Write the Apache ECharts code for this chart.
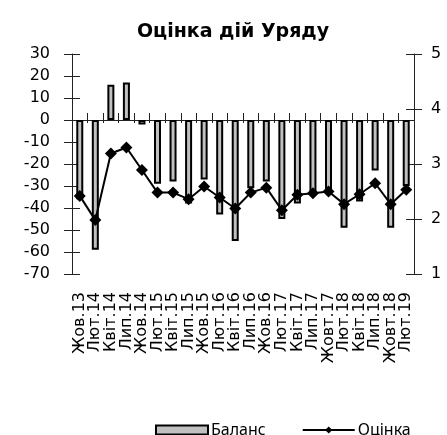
<!DOCTYPE html>
<html>
<head>
<meta charset="utf-8">
<script src="https://cdn.jsdelivr.net/npm/echarts@6/dist/echarts.min.js"></script>
<style>html,body{margin:0;padding:0;background:#fff;}#c{width:447px;height:435px;}</style>
</head>
<body>
<div id="c"></div>
<script>
const categories = ['Жов.13','Лют.14','Квіт.14','Лип.14','Жов.14','Лют.15','Квіт.15','Лип.15','Жов.15','Лют.16','Квіт.16','Лип.16','Жов.16','Лют.17','Квіт.17','Лип.17','Жовт.17','Лют.18','Квіт.18','Лип.18','Жовт.18','Лют.19'];
const balance = [-36, -59, 16, 17, -2, -29, -28, -38, -27, -43, -55, -31, -28, -45, -38, -34, -33, -49, -37, -23, -49, -30];
const rating = [2.42, 1.98, 3.19, 3.30, 2.89, 2.48, 2.48, 2.36, 2.59, 2.39, 2.19, 2.48, 2.57, 2.16, 2.44, 2.47, 2.50, 2.27, 2.45, 2.65, 2.27, 2.53];
const leftTicks = {min: -70, max: 30, interval: 10};
const rightTicks = {min: 1, max: 5, interval: 1};

const axisColor = '#222';
const chart = echarts.init(document.getElementById('c'), null, {renderer: 'canvas'});
const lblFont = 'DejaVu Sans';
chart.setOption({
  animation: false,
  backgroundColor: '#fff',
  title: {
    text: 'Оцінка дій Уряду', left: 228, top: 18, textAlign: 'center',
    textStyle: {fontFamily: 'DejaVu Sans', fontWeight: 'bold', fontSize: 19, color: '#000'}
  },
  grid: {left: 72, right: 33, top: 54, bottom: 161, containLabel: false},
  legend: {
    left: 150, top: 417, itemWidth: 52, itemHeight: 9, itemGap: 36,
    textStyle: {fontFamily: 'Noto Sans', fontSize: 16, color: '#000', padding: [0,0,0,-2]},
    data: [{name: 'Баланс', icon: 'rect'}, {name: 'Оцінка'}]
  },
  xAxis: [
    {type: 'category', data: categories, position: 'bottom',
     axisLine: {show: false, onZero: false}, axisTick: {show: false},
     axisLabel: {rotate: 90, margin: 18, interval: 0, fontFamily: lblFont, fontSize: 16, color: '#000'}},
    {type: 'category', data: categories, position: 'bottom',
     axisLine: {show: true, onZero: true, onZeroAxisIndex: 0, lineStyle: {color: axisColor, width: 1}},
     axisTick: {show: true, inside: false, interval: 0, length: 3, lineStyle: {color: axisColor}},
     axisLabel: {show: false}},
    {type: 'category', data: categories, position: 'bottom',
     axisLine: {show: false, onZero: true, onZeroAxisIndex: 0},
     axisTick: {show: true, inside: true, interval: 0, length: 7, lineStyle: {color: axisColor}},
     axisLabel: {show: false}}
  ],
  yAxis: [
    {type: 'value', position: 'left', min: leftTicks.min, max: leftTicks.max, interval: leftTicks.interval,
     axisLine: {show: true, lineStyle: {color: axisColor}}, axisTick: {show: true, length: 8, lineStyle: {color: axisColor}},
     splitLine: {show: false},
     axisLabel: {margin: 22, fontFamily: lblFont, fontSize: 16, color: '#000'}},
    {type: 'value', position: 'right', min: rightTicks.min, max: rightTicks.max, interval: rightTicks.interval,
     axisLine: {show: true, lineStyle: {color: axisColor}}, axisTick: {show: true, length: 8, lineStyle: {color: axisColor}},
     splitLine: {show: false},
     axisLabel: {margin: 17, fontFamily: lblFont, fontSize: 16, color: '#000'}},
    {type: 'value', position: 'left', min: leftTicks.min, max: leftTicks.max, interval: leftTicks.interval,
     axisLine: {show: false}, axisTick: {show: true, inside: true, length: 8, lineStyle: {color: axisColor}},
     splitLine: {show: false}, axisLabel: {show: false}},
    {type: 'value', position: 'right', min: rightTicks.min, max: rightTicks.max, interval: rightTicks.interval,
     axisLine: {show: false}, axisTick: {show: true, inside: true, length: 8, lineStyle: {color: axisColor}},
     splitLine: {show: false}, axisLabel: {show: false}}
  ],
  series: [
    {name: 'Баланс', type: 'bar', xAxisIndex: 0, yAxisIndex: 0, data: balance, barWidth: 7,
     itemStyle: {color: '#c0c0c0', borderColor: '#000', borderWidth: 2}},
    {name: 'Оцінка', type: 'line', xAxisIndex: 0, yAxisIndex: 1, data: rating,
     symbol: 'diamond', symbolSize: 12, showAllSymbol: true,
     lineStyle: {color: '#000', width: 2}, itemStyle: {color: '#000'}}
  ]
});
</script>
</body>
</html>
